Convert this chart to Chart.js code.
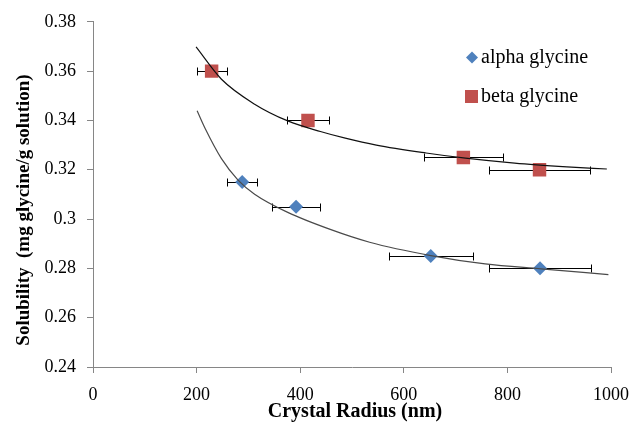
<!DOCTYPE html>
<html>
<head>
<meta charset="utf-8">
<script src="https://cdn.jsdelivr.net/npm/chart.js@4"></script>
<style>
  body { margin: 0; background: #fff; }
  canvas { display: block; }
</style>
</head>
<body>
<canvas id="solChart" width="640" height="430"></canvas>
<script>
// measured points (radius nm, solubility) and horizontal error half-widths
const alphaX = [288, 392, 652, 863];
const alphaY = [0.315, 0.305, 0.285, 0.280];
const alphaErr = [29, 47, 81, 98];

const betaX = [229, 415, 715, 862];
const betaY = [0.360, 0.340, 0.325, 0.320];
const betaErr = [29, 41, 76, 97];

// trend curves
const alphaFitX = [201, 217, 248, 280, 312, 376, 458, 534, 652, 757, 865, 995];
const alphaFitY = [0.3439, 0.3365, 0.3245, 0.3158, 0.3101, 0.3027, 0.2958, 0.2906, 0.2852, 0.2818, 0.2798, 0.2775];

const betaFitX = [199, 248, 312, 376, 439, 487, 547, 643, 719, 814, 915, 992];
const betaFitY = [0.3698, 0.3567, 0.3466, 0.3398, 0.3355, 0.3328, 0.3300, 0.3268, 0.3247, 0.3227, 0.3212, 0.3203];

const xTicks = [0, 200, 400, 600, 800, 1000];
const yTicks = [0.24, 0.26, 0.28, 0.3, 0.32, 0.34, 0.36, 0.38];

const BLUE = '#4F81BD';
const RED = '#C0504D';
const AXIS = '#868686';
const SERIF = '"Liberation Serif", "Times New Roman", serif';

function pts(xs, ys, errs) {
    return xs.map((x, i) => ({ x: x, y: ys[i], err: errs ? errs[i] : 0 }));
}

const errorBars = {
    id: 'errorBars',
    beforeDatasetsDraw(chart) {
        const ctx = chart.ctx;
        const xs = chart.scales.x, ys = chart.scales.y;
        ctx.save();
        ctx.strokeStyle = '#000';
        ctx.lineWidth = 1;
        chart.data.datasets.forEach(ds => {
            if (!ds.errorBars) return;
            ds.data.forEach(p => {
                const y = Math.round(ys.getPixelForValue(p.y)) + 0.5;
                const x0 = Math.round(xs.getPixelForValue(p.x - p.err)) + 0.5;
                const x1 = Math.round(xs.getPixelForValue(p.x + p.err)) + 0.5;
                ctx.beginPath();
                ctx.moveTo(x0, y); ctx.lineTo(x1, y);
                ctx.moveTo(x0, y - 4); ctx.lineTo(x0, y + 4);
                ctx.moveTo(x1, y - 4); ctx.lineTo(x1, y + 4);
                ctx.stroke();
            });
        });
        ctx.restore();
    }
};

const extras = {
    id: 'extras',
    afterDraw(chart) {
        const ctx = chart.ctx;
        ctx.save();
        // axis titles
        ctx.fillStyle = '#000';
        ctx.font = 'bold 20px ' + SERIF;
        ctx.textAlign = 'center';
        ctx.textBaseline = 'alphabetic';
        ctx.fillText('Crystal Radius (nm)', 355, 417);
        ctx.translate(29, 210);
        ctx.rotate(-Math.PI / 2);
        ctx.font = 'bold 19px ' + SERIF;
        ctx.fillText('Solubility  (mg glycine/g solution)', 0, 0);
        ctx.setTransform(1, 0, 0, 1, 0, 0);
        // legend
        ctx.textAlign = 'left';
        ctx.font = '20px ' + SERIF;
        ctx.fillStyle = BLUE;
        ctx.beginPath();
        ctx.moveTo(472, 51.5); ctx.lineTo(478, 57.5); ctx.lineTo(472, 63.5); ctx.lineTo(466, 57.5);
        ctx.closePath(); ctx.fill();
        ctx.fillStyle = RED;
        ctx.fillRect(465, 90, 13, 13);
        ctx.fillStyle = '#000';
        ctx.fillText('alpha glycine', 481, 63);
        ctx.fillText('beta glycine', 481, 102);
        ctx.restore();
    }
};

new Chart(document.getElementById('solChart'), {
    type: 'scatter',
    data: {
        datasets: [
            {
                label: 'alpha fit', data: pts(alphaFitX, alphaFitY), showLine: true,
                borderColor: '#4a4a4a', borderWidth: 1.2, pointRadius: 0,
                cubicInterpolationMode: 'monotone'
            },
            {
                label: 'beta fit', data: pts(betaFitX, betaFitY), showLine: true,
                borderColor: '#111', borderWidth: 1.2, pointRadius: 0,
                cubicInterpolationMode: 'monotone'
            },
            {
                label: 'alpha glycine', data: pts(alphaX, alphaY, alphaErr), errorBars: true,
                pointStyle: 'rectRot', pointRadius: 7, backgroundColor: BLUE, borderWidth: 0
            },
            {
                label: 'beta glycine', data: pts(betaX, betaY, betaErr), errorBars: true,
                pointStyle: 'rect', pointRadius: 9.5, backgroundColor: RED, borderWidth: 0
            }
        ]
    },
    options: {
        responsive: false,
        animation: false,
        layout: { padding: { top: 21, right: 22, left: 0, bottom: 0 } },
        plugins: { legend: { display: false }, tooltip: { enabled: false } },
        scales: {
            x: {
                type: 'linear', min: 0, max: 1000,
                afterBuildTicks: s => { s.ticks = xTicks.map(v => ({ value: v })); },
                afterFit: s => { s.height = 63; },
                ticks: {
                    color: '#000', font: { family: SERIF, size: 18 }, padding: 11, maxRotation: 0,
                    callback: v => String(v)
                },
                grid: { drawOnChartArea: false, color: AXIS, tickLength: 6 },
                border: { color: AXIS }
            },
            y: {
                min: 0.24, max: 0.38,
                afterBuildTicks: s => { s.ticks = yTicks.map(v => ({ value: v })); },
                afterFit: s => { s.width = 93; },
                ticks: {
                    color: '#000', font: { family: SERIF, size: 18 }, padding: 11,
                    callback: v => String(+v.toFixed(2))
                },
                grid: { drawOnChartArea: false, color: AXIS, tickLength: 6 },
                border: { color: AXIS }
            }
        }
    },
    plugins: [errorBars, extras]
});
</script>
</body>
</html>
